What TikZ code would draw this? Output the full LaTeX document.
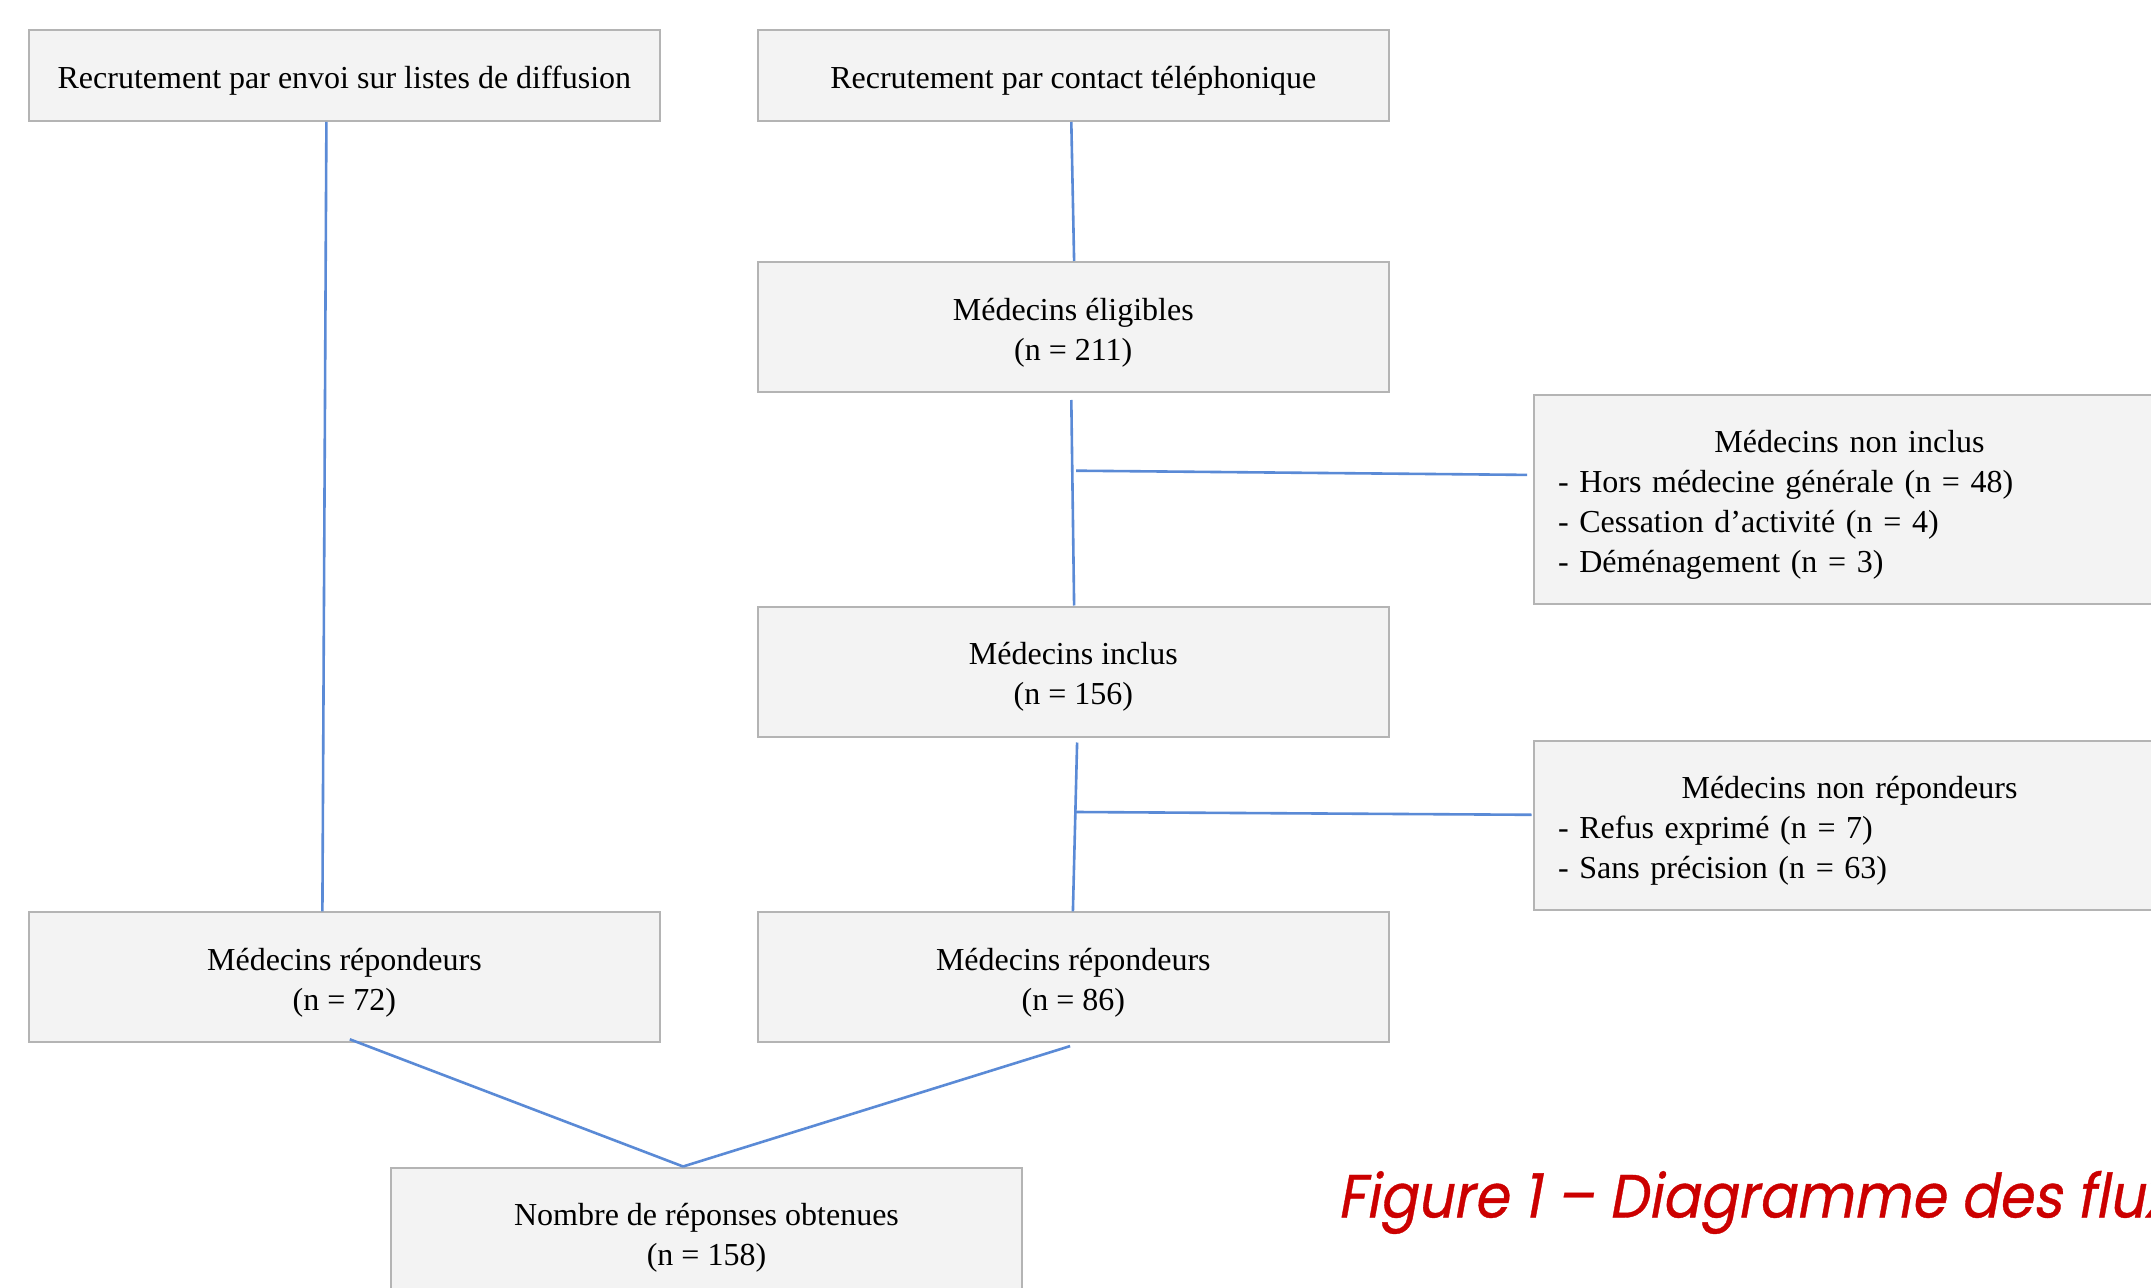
\documentclass[tikz,border=0pt]{standalone}
\usepackage{fontspec}
\setmainfont{Liberation Serif}
\newfontfamily\capfont[FakeSlant=0.2,FakeBold=0.6]{Poppins}
\usetikzlibrary{calc}
\definecolor{lineblue}{RGB}{90,138,214}
\definecolor{boxgray}{RGB}{180,180,180}
\definecolor{boxfill}{RGB}{243,243,243}
\definecolor{capred}{RGB}{204,0,0}
\begin{document}
\begin{tikzpicture}[x=0.5pt,y=-0.5pt,
 box/.style={draw=boxgray,fill=boxfill,line width=1pt,minimum width=315.5pt,minimum height=65pt,inner sep=0pt},
 txt/.style={inner sep=0pt,align=center,font=\fontsize{16}{19.9}\selectfont},
 listtxt/.style={txt,text width=291.5pt,align=left},
 conn/.style={draw=lineblue,line width=1.3pt}]
\useasboundingbox (0,0) rectangle (2151,1288);
\clip (0,0) rectangle (2151,1288);
\fill[white] (0,0) rectangle (2151,1288);
% boxes
\node[box,minimum height=45.5pt] (A) at (344.4,75.5) {};
\node[box,minimum height=45.5pt] (B) at (1073.3,75.5) {};
\node[box] (C) at (1073.3,327) {};
\node[box] (E) at (1073.3,671.5) {};
\node[box] (G) at (344.4,977.3) {};
\node[box] (H) at (1073.3,977.3) {};
\node[box] (I) at (706.5,1232.5) {};
\node[box,minimum height=104.3pt] (D) at (1849.5,499.3) {};
\node[box,minimum height=84.3pt] (F) at (1849.5,825.2) {};
% texts
\node[txt] (At) at ([yshift=-2.75pt]A.center) {Recrutement par envoi sur listes de diffusion};
\node[txt] (Bt) at ([yshift=-2.75pt]B.center) {Recrutement par contact téléphonique};
\node[txt] (Ct) at ([yshift=-2.75pt]C.center) {Médecins éligibles\\(n = 211)};
\node[txt] (Et) at ([yshift=-2.75pt]E.center) {Médecins inclus\\(n = 156)};
\node[txt] (Gt) at ([yshift=-2.75pt]G.center) {Médecins répondeurs\\(n = 72)};
\node[txt] (Ht) at ([yshift=-2.75pt]H.center) {Médecins répondeurs\\(n = 86)};
\node[txt] (It) at ([yshift=-2.75pt]I.center) {Nombre de réponses obtenues\\(n = 158)};
\node[listtxt] (Dt) at ([yshift=-2.75pt]D.center)
 {\makebox[291.5pt]{Médecins non inclus}\\- Hors médecine générale (n = 48)\\- Cessation d’activité (n = 4)\\- Déménagement (n = 3)};
\node[listtxt] (Ft) at ([yshift=-2.75pt]F.center)
 {\makebox[291.5pt]{Médecins non répondeurs}\\- Refus exprimé (n = 7)\\- Sans précision (n = 63)};
\node[anchor=base west,inner sep=0pt,text=capred,font=\capfont\fontsize{30.5}{30.5}\selectfont] (cap) at (1337,1217.5) {\scalebox{0.915}[1]{Figure 1 – Diagramme des flux}};
% connectors
\coordinate (j1) at (1076,470.7);
\coordinate (j2) at (1076,812);
\draw[conn] ([xshift=-9pt]A.south) -- ([xshift=-11pt]G.north);
\draw[conn] ([xshift=-1pt]B.south) -- ([xshift=0.4pt]C.north);
\draw[conn] ([xshift=-1pt,yshift=-3.5pt]C.south) -- ([xshift=0.4pt]E.north);
\draw[conn] (j1) -- ([xshift=-3pt,yshift=12.2pt]D.west);
\draw[conn] ([xshift=1.9pt,yshift=-2.5pt]E.south) -- ([xshift=-0.2pt]H.north);
\draw[conn] (j2) -- ([xshift=-0.7pt,yshift=5.2pt]F.west);
\draw[conn] ([xshift=2.7pt,yshift=2pt]G.south) -- ([xshift=-11.7pt]I.north);
\draw[conn] ([xshift=-1.6pt,yshift=-1.4pt]H.south) -- ([xshift=-11.7pt]I.north);
\end{tikzpicture}
\end{document}
